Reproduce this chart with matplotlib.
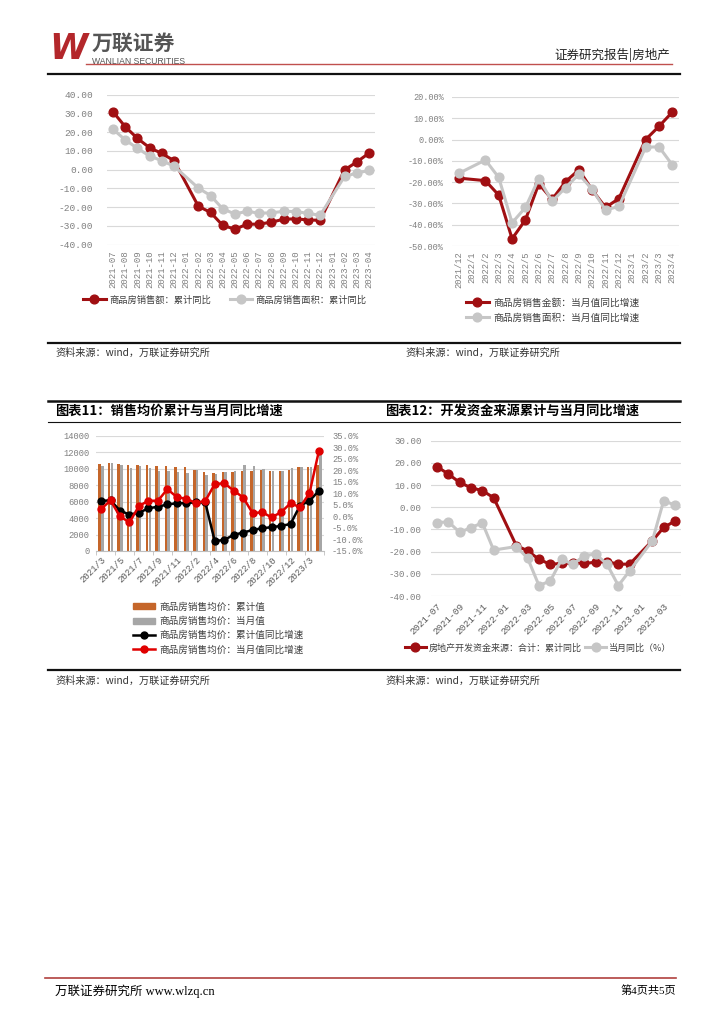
import matplotlib
matplotlib.use('Agg')
import matplotlib.pyplot as plt
import numpy as np
from matplotlib.lines import Line2D
from matplotlib.patches import Patch

plt.rcParams['font.family'] = ['Noto Sans CJK SC', 'DejaVu Sans']
plt.rcParams['axes.unicode_minus'] = False

W, H = 724, 1024
nan = np.nan

# 图1：商品房销售额 / 面积 累计同比
months_a = ['2021-07', '2021-08', '2021-09', '2021-10', '2021-11', '2021-12',
            '2022-01', '2022-02', '2022-03', '2022-04', '2022-05', '2022-06',
            '2022-07', '2022-08', '2022-09', '2022-10', '2022-11', '2022-12',
            '2023-01', '2023-02', '2023-03', '2023-04']
amount_cum = [30.8, 22.9, 16.7, 11.7, 8.7, 4.8, nan, -19.5, -22.8, -29.7, -31.7,
              -29.1, -29.0, -28.0, -26.4, -26.2, -26.8, -27.0, nan, -0.1, 4.1, 8.8]
area_cum = [21.5, 15.9, 11.4, 7.3, 4.8, 1.9, nan, -9.8, -13.8, -20.9, -23.6,
            -22.2, -23.2, -23.0, -22.2, -22.3, -23.3, -24.3, nan, -3.6, -1.8, -0.4]

# 图2：当月值同比增速
months_b = ['2021/12', '2022/1', '2022/2', '2022/3', '2022/4', '2022/5', '2022/6',
            '2022/7', '2022/8', '2022/9', '2022/10', '2022/11', '2022/12',
            '2023/1', '2023/2', '2023/3', '2023/4']
amount_mon = [-18.1, nan, -19.3, -26.1, -46.6, -37.7, -20.8, -28.1, -19.8, -14.2,
              -23.7, -31.9, -27.7, nan, 0.0, 6.2, 12.9]
area_mon = [-15.9, nan, -9.6, -17.8, -39.1, -31.9, -18.3, -29.0, -22.6, -16.3,
            -23.4, -33.1, -31.4, nan, -3.6, -3.4, -11.9]

# 图表11：销售均价
months_c = ['2021/3', '2021/4', '2021/5', '2021/6', '2021/7', '2021/8', '2021/9',
            '2021/10', '2021/11', '2021/12', '2022/2', '2022/3', '2022/4', '2022/5',
            '2022/6', '2022/7', '2022/8', '2022/9', '2022/10', '2022/11', '2022/12',
            '2023/2', '2023/3', '2023/4']
price_cum = [10600, 10650, 10600, 10450, 10450, 10400, 10350, 10300, 10200, 10150,
             9850, 9550, 9480, 9550, 9620, 9680, 9740, 9780, 9740, 9740, 9780,
             10180, 10180, 10450]
price_mon = [10300, 10650, 10500, 10050, 10350, 10050, 9750, 9750, 9600, 9500,
             9850, 9250, 9330, 9620, 9740, 10470, 10350, 9980, 9700, 9740, 10060,
             10180, 10180, 11900]
price_cum_yoy = [6.7, 7.0, 2.5, 0.8, 1.6, 3.5, 4.2, 5.2, 5.7, 5.8, 6.1, 6.1, -10.7,
                 -10.2, -8.0, -7.0, -5.9, -5.1, -4.7, -4.1, -3.3, 4.7, 6.7, 11.2]
price_mon_yoy = [3.2, 6.9, 0.0, -2.6, 4.5, 6.8, 6.8, 11.8, 8.4, 7.6, 5.9, 6.7, 14.0,
                 14.4, 11.2, 8.2, 1.4, 1.8, -0.4, 1.8, 5.7, 4.0, 10.1, 28.5]

# 图表12：开发资金来源
months_d = months_a
fund_cum = [18.3, 15.0, 11.2, 8.8, 7.5, 4.3, nan, -17.3, -19.6, -23.5, -25.7, -25.3,
            -25.0, -25.3, -24.8, -24.5, -25.7, -25.6, nan, -15.1, -9.1, -6.2]
fund_mon = [-7.0, -6.5, -11.3, -9.2, -7.0, -19.3, nan, -17.7, -23.0, -35.3, -33.2,
            -23.5, -25.7, -21.8, -21.1, -25.7, -35.3, -28.6, nan, -15.1, 3.0, 0.9]

DARKRED = '#a00f12'
LGRAY = '#c6c6c6'
GRID = '#d9d9d9'
TICK = '#808080'

fig = plt.figure(figsize=(W / 100, H / 100), dpi=100)


def box(x0, y0, x1, y1):
    return [x0 / W, 1 - y1 / H, (x1 - x0) / W, (y1 - y0) / H]


def hline(y, x0, x1, lw=1.0, color='black'):
    fig.add_artist(Line2D([x0 / W, x1 / W], [1 - y / H, 1 - y / H], lw=lw, color=color))


def ftext(x, y, s, **kw):
    fig.text(x / W, 1 - y / H, s, **kw)


def plain(ax):
    for s in ax.spines.values():
        s.set_visible(False)
    ax.grid(axis='y', color=GRID, lw=0.8)
    ax.set_axisbelow(True)
    ax.tick_params(length=0, colors=TICK)


def connect(ax, vals, color, lw, ms, label):
    v = np.array(vals, dtype=float)
    x = np.arange(len(v))
    m = ~np.isnan(v)
    ax.plot(x[m], v[m], color=color, lw=lw, marker='o', ms=ms, label=label, zorder=3)


# ---------------- 页眉 ----------------
ftext(49, 49, 'W', fontsize=25, color='#b3272b', fontweight='bold', style='italic',
      family='DejaVu Sans', va='center')
ftext(92, 43, '万联证券', fontsize=15, color='#555555', fontweight='bold', va='center')
ftext(92, 61, 'WANLIAN SECURITIES', fontsize=6.2, color='#555555', va='center',
      family='Liberation Sans')
ftext(670, 55, '证券研究报告|房地产', fontsize=9, color='#222222', ha='right', va='center')
hline(64, 86, 672, lw=1.0, color='#c0504d')
hline(74, 48, 680, lw=1.6, color='#111111')

# ---------------- 图1 ----------------
ax1 = fig.add_axes(box(107, 94.7, 375, 244.7))
plain(ax1)
connect(ax1, amount_cum, DARKRED, 2.2, 6.3, '商品房销售额：累计同比')
connect(ax1, area_cum, LGRAY, 2.2, 6.3, '商品房销售面积：累计同比')
ax1.set_xlim(-0.5, len(months_a) - 0.5)
ax1.set_ylim(-40, 40)
yt = np.arange(-40, 41, 10)
ax1.set_yticks(yt, ['%.2f' % v for v in yt], family='Liberation Mono', fontsize=6.8)
ax1.set_xticks(range(len(months_a)), months_a, rotation=90, family='Liberation Mono',
               fontsize=6.5)
ax1.tick_params(axis='y', pad=10)
ax1.tick_params(axis='x', pad=4)
ax1.legend(loc='center', bbox_to_anchor=(225 / W, 1 - 300 / H), bbox_transform=fig.transFigure,
           ncol=2, frameon=False, fontsize=6.7, handlelength=2.4, handletextpad=0.4,
           columnspacing=2.0, labelcolor='#404040')

# ---------------- 图2 ----------------
ax2 = fig.add_axes(box(452, 97, 679, 246))
plain(ax2)
connect(ax2, amount_mon, DARKRED, 2.2, 6.3, '商品房销售金额：当月值同比增速')
connect(ax2, area_mon, LGRAY, 2.2, 6.3, '商品房销售面积：当月值同比增速')
ax2.set_xlim(-0.5, len(months_b) - 0.5)
ax2.set_ylim(-50, 20)
yt = np.arange(-50, 21, 10)
ax2.set_yticks(yt, ['%.2f%%' % v for v in yt], family='Liberation Mono', fontsize=6.2)
ax2.set_xticks(range(len(months_b)), months_b, rotation=90, family='Liberation Mono',
               fontsize=6.3)
ax2.tick_params(axis='y', pad=6)
ax2.tick_params(axis='x', pad=4)
ax2.legend(loc='center left', bbox_to_anchor=(457 / W, 1 - 310 / H), bbox_transform=fig.transFigure,
           ncol=1, frameon=False, fontsize=7, handlelength=2.4, handletextpad=0.4,
           labelspacing=0.5, labelcolor='#404040')

# 资料来源 / 标题
hline(343, 48, 680, lw=1.6, color='#111111')
ftext(55, 353, '资料来源：wind，万联证券研究所', fontsize=7.3, color='#333333', va='center')
ftext(405, 353, '资料来源：wind，万联证券研究所', fontsize=7.3, color='#333333', va='center')

hline(401, 48, 680, lw=1.8, color='#111111')
ftext(55, 411, '图表11：销售均价累计与当月同比增速', fontsize=9.5, fontweight='bold', va='center')
ftext(385, 411, '图表12：开发资金来源累计与当月同比增速', fontsize=9.5, fontweight='bold', va='center')
hline(422, 48, 680, lw=0.8, color='#111111')

# ---------------- 图表11 ----------------
ax3 = fig.add_axes(box(96.3, 435.7, 323.7, 551))
for s in ax3.spines.values():
    s.set_visible(False)
ax3.spines['bottom'].set_visible(True)
ax3.spines['bottom'].set_color('#bfbfbf')
ax3.grid(axis='y', color=GRID, lw=0.8)
ax3.set_axisbelow(True)
xc = np.arange(len(months_c))
ax3.bar(xc - 0.14, price_cum, width=0.26, color='#c5662a', label='商品房销售均价：累计值')
ax3.bar(xc + 0.14, price_mon, width=0.26, color='#a6a6a6', label='商品房销售均价：当月值')
ax3.set_xlim(-0.5, len(months_c) - 0.5)
ax3.set_ylim(0, 14000)
yt = np.arange(0, 14001, 2000)
ax3.set_yticks(yt, [str(v) for v in yt], family='Liberation Mono', fontsize=6.3)
ax3.set_xticks(xc[::2], months_c[::2], rotation=45, ha='right', rotation_mode='anchor',
               family='Liberation Mono', fontsize=6.5)
ax3.set_xticks(np.arange(-0.5, len(months_c), 2), minor=True)
ax3.tick_params(axis='x', which='major', length=0, pad=3, colors='#595959')
ax3.tick_params(axis='x', which='minor', length=3, color='#bfbfbf')
ax3.tick_params(axis='y', length=0, pad=5, colors=TICK)

ax3b = ax3.twinx()
for s in ax3b.spines.values():
    s.set_visible(False)
ax3b.plot(xc, price_cum_yoy, color='black', lw=1.8, marker='o', ms=5,
          label='商品房销售均价：累计值同比增速')
ax3b.plot(xc, price_mon_yoy, color='#e00000', lw=1.8, marker='o', ms=5,
          label='商品房销售均价：当月值同比增速')
ax3b.set_ylim(-15, 35)
yt = np.arange(-15, 36, 5)
ax3b.set_yticks(yt, ['%.1f%%' % v for v in yt], family='Liberation Mono', fontsize=6.3)
ax3b.tick_params(axis='y', length=0, pad=6, colors=TICK)

h = [Patch(color='#c5662a'), Patch(color='#a6a6a6'),
     Line2D([], [], color='black', lw=1.8, marker='o', ms=5),
     Line2D([], [], color='#e00000', lw=1.8, marker='o', ms=5)]
lab = ['商品房销售均价：累计值', '商品房销售均价：当月值',
       '商品房销售均价：累计值同比增速', '商品房销售均价：当月值同比增速']
ax3b.legend(h, lab, loc='center left', bbox_to_anchor=(124 / W, 1 - 628.5 / H),
            bbox_transform=fig.transFigure, frameon=False, fontsize=6.9, handlelength=2.3,
            handleheight=0.6, handletextpad=0.5, labelspacing=0.5, labelcolor='#404040')

# ---------------- 图表12 ----------------
ax4 = fig.add_axes(box(431.3, 440.7, 680.7, 596))
plain(ax4)
connect(ax4, fund_cum, DARKRED, 2.2, 6.3, '房地产开发资金来源：合计：累计同比')
connect(ax4, fund_mon, LGRAY, 2.2, 6.3, '当月同比（%）')
ax4.set_xlim(-0.5, len(months_d) - 0.5)
ax4.set_ylim(-40, 30)
yt = np.arange(-40, 31, 10)
ax4.set_yticks(yt, ['%.2f' % v for v in yt], family='Liberation Mono', fontsize=6.6)
ax4.set_xticks(range(0, len(months_d), 2), months_d[::2], rotation=45, ha='right',
               rotation_mode='anchor', family='Liberation Mono', fontsize=6.8)
ax4.tick_params(axis='y', pad=7)
ax4.tick_params(axis='x', pad=4, colors='#595959')
ax4.legend(loc='center', bbox_to_anchor=(538 / W, 1 - 648 / H), bbox_transform=fig.transFigure,
           ncol=2, frameon=False, fontsize=6.5, handlelength=2.4, handletextpad=0.3,
           columnspacing=0.3, labelcolor='#404040')

hline(670, 48, 680, lw=1.6, color='#111111')
ftext(55, 681, '资料来源：wind，万联证券研究所', fontsize=7.3, color='#333333', va='center')
ftext(385, 681, '资料来源：wind，万联证券研究所', fontsize=7.3, color='#333333', va='center')

# ---------------- 页脚 ----------------
hline(978, 45, 676, lw=1.2, color='#b0413e')
ftext(55, 991, '万联证券研究所 www.wlzq.cn', fontsize=9, va='center',
      family=['Liberation Serif', 'Noto Sans CJK SC'])
ftext(676, 991, '第4页共5页', fontsize=8, ha='right', va='center',
      family=['Liberation Serif', 'Noto Sans CJK SC'])

fig.savefig('out.png', dpi=100)
